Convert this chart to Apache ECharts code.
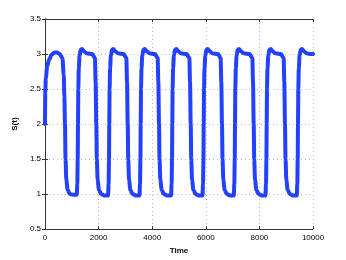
<!DOCTYPE html>
<html>
<head>
<meta charset="utf-8">
<script src="https://cdn.jsdelivr.net/npm/echarts@6/dist/echarts.min.js"></script>
<style>html,body{margin:0;padding:0;background:#fff}#c{width:346px;height:260px}</style>
</head>
<body>
<div id="c"></div>
<script>
var xTicks = [0, 2000, 4000, 6000, 8000, 10000];
var yTicks = [0.5, 1, 1.5, 2, 2.5, 3, 3.5];
var xLabel = 'Time';
var yLabel = 'S(t)';

var time = [
  0, 10, 30, 80, 150, 250, 350, 450, 550, 650, 700, 722, 746, 766, 796, 846, 926, 1046, 1186, 1206, 1221,
  1231, 1243, 1261, 1291, 1331, 1381, 1451, 1551, 1764, 1864, 1889, 1914, 1934, 1964, 2014, 2094, 2214, 2354, 2374, 2389,
  2399, 2411, 2429, 2459, 2499, 2549, 2619, 2719, 2936, 3036, 3061, 3086, 3106, 3136, 3186, 3266, 3386, 3526, 3546, 3561,
  3571, 3583, 3601, 3631, 3671, 3721, 3791, 3891, 4104, 4204, 4229, 4254, 4274, 4304, 4354, 4434, 4554, 4705, 4725, 4740,
  4750, 4762, 4780, 4810, 4850, 4900, 4970, 5070, 5287, 5387, 5412, 5437, 5457, 5487, 5537, 5617, 5737, 5877, 5897, 5912,
  5922, 5934, 5952, 5982, 6022, 6072, 6142, 6242, 6454, 6554, 6579, 6604, 6624, 6654, 6704, 6784, 6904, 7045, 7065, 7080,
  7090, 7102, 7120, 7150, 7190, 7240, 7310, 7410, 7637, 7737, 7762, 7787, 7807, 7837, 7887, 7967, 8087, 8227, 8247, 8262,
  8272, 8284, 8302, 8332, 8372, 8422, 8492, 8592, 8805, 8905, 8930, 8955, 8975, 9005, 9055, 9135, 9255, 9395, 9415, 9430,
  9440, 9452, 9470, 9500, 9540, 9590, 9660, 9760, 9880, 10000
];
var S = [
  2.0, 2.45, 2.65, 2.82, 2.92, 2.99, 3.02, 3.02, 3.0, 2.94, 2.7, 2.4, 2.0, 1.5, 1.2, 1.06, 1.0, 0.99, 0.99, 1.15, 1.5,
  2.0, 2.5, 2.8, 2.98, 3.06, 3.07, 3.04, 3.01, 3.0, 2.94, 2.6, 2.0, 1.5, 1.2, 1.06, 1.0, 0.98, 0.98, 1.15, 1.5,
  2.0, 2.5, 2.8, 2.98, 3.06, 3.07, 3.04, 3.01, 3.0, 2.94, 2.6, 2.0, 1.5, 1.2, 1.06, 1.0, 0.98, 0.98, 1.15, 1.5,
  2.0, 2.5, 2.8, 2.98, 3.06, 3.07, 3.04, 3.01, 3.0, 2.94, 2.6, 2.0, 1.5, 1.2, 1.06, 1.0, 0.98, 0.98, 1.15, 1.5,
  2.0, 2.5, 2.8, 2.98, 3.06, 3.07, 3.04, 3.01, 3.0, 2.94, 2.6, 2.0, 1.5, 1.2, 1.06, 1.0, 0.98, 0.98, 1.15, 1.5,
  2.0, 2.5, 2.8, 2.98, 3.06, 3.07, 3.04, 3.01, 3.0, 2.94, 2.6, 2.0, 1.5, 1.2, 1.06, 1.0, 0.98, 0.98, 1.15, 1.5,
  2.0, 2.5, 2.8, 2.98, 3.06, 3.07, 3.04, 3.01, 3.0, 2.94, 2.6, 2.0, 1.5, 1.2, 1.06, 1.0, 0.98, 0.98, 1.15, 1.5,
  2.0, 2.5, 2.8, 2.98, 3.06, 3.07, 3.04, 3.01, 3.0, 2.94, 2.6, 2.0, 1.5, 1.2, 1.06, 1.0, 0.98, 0.98, 1.15, 1.5,
  2.0, 2.5, 2.8, 2.98, 3.06, 3.07, 3.04, 3.01, 3.0, 3.0
];

var data = time.map(function (t, i) { return [t, S[i]]; });
var font = 'Liberation Sans, Arial, Helvetica, sans-serif';
var axisCol = '#333';
var gridLine = { show: true, lineStyle: { color: '#b8b8b8', type: [1, 3], width: 1 } };

var chart = echarts.init(document.getElementById('c'), null, { renderer: 'canvas' });
chart.setOption({
  animation: false,
  backgroundColor: '#fff',
  grid: { left: 45, right: 33, top: 19, bottom: 29, containLabel: false },
  xAxis: [{
    type: 'value', min: xTicks[0], max: xTicks[xTicks.length - 1], interval: 2000,
    name: xLabel, nameLocation: 'middle', nameGap: 16,
    nameTextStyle: { fontFamily: font, fontSize: 8, fontWeight: 'bold', color: '#000' },
    axisLine: { show: true, lineStyle: { color: axisCol, width: 1 } },
    axisTick: { show: true, inside: true, length: 3, lineStyle: { color: axisCol } },
    axisLabel: { fontFamily: font, fontSize: 8, color: '#000', margin: 5, formatter: function (v) { return String(v); } },
    splitLine: gridLine
  }, {
    type: 'value', position: 'top', min: xTicks[0], max: xTicks[xTicks.length - 1], interval: 2000,
    axisLine: { show: true, lineStyle: { color: axisCol, width: 1 } },
    axisTick: { show: true, inside: true, length: 3, lineStyle: { color: axisCol } },
    axisLabel: { show: false }, splitLine: { show: false }
  }],
  yAxis: [{
    type: 'value', min: yTicks[0], max: yTicks[yTicks.length - 1], interval: 0.5,
    name: yLabel, nameLocation: 'middle', nameGap: 22, nameRotate: 90,
    nameTextStyle: { fontFamily: font, fontSize: 8, fontWeight: 'bold', color: '#000' },
    axisLine: { show: true, lineStyle: { color: axisCol, width: 1 } },
    axisTick: { show: true, inside: true, length: 3, lineStyle: { color: axisCol } },
    axisLabel: { fontFamily: font, fontSize: 8, color: '#000', margin: 4 },
    splitLine: gridLine
  }, {
    type: 'value', position: 'right', min: yTicks[0], max: yTicks[yTicks.length - 1], interval: 0.5,
    axisLine: { show: true, lineStyle: { color: axisCol, width: 1 } },
    axisTick: { show: true, inside: true, length: 3, lineStyle: { color: axisCol } },
    axisLabel: { show: false }, splitLine: { show: false }
  }],
  series: [{
    type: 'line', data: data, showSymbol: false, smooth: 0.3, smoothMonotone: 'x',
    lineStyle: { color: '#2440ff', width: 4, join: 'round', cap: 'round' },
    clip: true
  }]
});
</script>
</body>
</html>
